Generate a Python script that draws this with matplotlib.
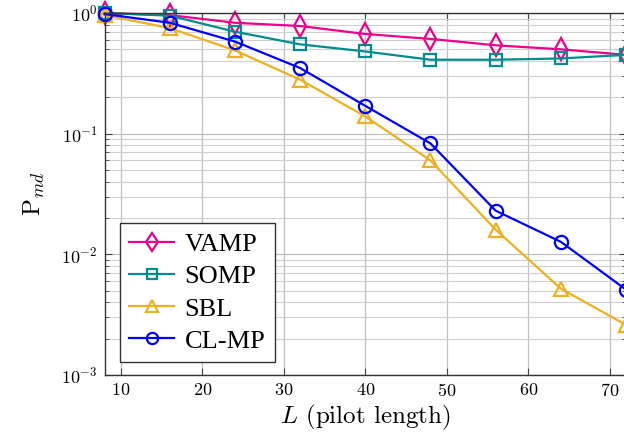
import numpy as np
import matplotlib
matplotlib.use("Agg")
import matplotlib.pyplot as plt
from matplotlib.ticker import FuncFormatter, LogLocator, NullFormatter

plt.rcParams['font.family'] = 'serif'
plt.rcParams['font.serif'] = ['cmr10', 'DejaVu Serif']
plt.rcParams['mathtext.fontset'] = 'cm'
plt.rcParams['axes.formatter.use_mathtext'] = True

# pilot length
L = [8, 16, 24, 32, 40, 48, 56, 64, 72]

# miss detection probability per method
vamp = [1.0, 0.96, 0.83, 0.78, 0.67, 0.61, 0.54, 0.50, 0.45]
somp = [1.0, 0.95, 0.70, 0.55, 0.48, 0.41, 0.41, 0.42, 0.45]
sbl = [0.96, 0.75, 0.49, 0.28, 0.139, 0.060, 0.016, 0.0052, 0.0026]
clmp = [0.98, 0.83, 0.58, 0.35, 0.17, 0.083, 0.023, 0.0127, 0.0051]

series = [
    ('VAMP', vamp, '#EC008C', 'd', 11),
    ('SOMP', somp, '#008C8C', 's', 9),
    ('SBL', sbl, '#EDB120', '^', 9.5),
    ('CL-MP', clmp, '#0000FF', 'o', 9.5),
]

fig = plt.figure(figsize=(6.24, 4.45), dpi=100)
ax = fig.add_axes([104.6 / 624, 70 / 445, (626 - 104.6) / 624, 362 / 445])

for name, vals, col, mk, ms in series:
    ax.plot(L, vals, color=col, lw=1.6, marker=mk, ms=ms, mfc='none',
            mec=col, mew=1.6, label=name, clip_on=False)

ax.set_yscale('log')
ax.set_xlim(8, 72)
ax.set_ylim(1e-3, 1)
ax.set_xticks([10, 20, 30, 40, 50, 60, 70])
ax.xaxis.set_major_formatter(FuncFormatter(lambda v, p: '$%d$' % v))
ax.yaxis.set_major_locator(LogLocator(base=10, numticks=10))
ax.yaxis.set_minor_locator(LogLocator(base=10, subs=np.arange(2, 10), numticks=10))
ax.yaxis.set_minor_formatter(NullFormatter())

ax.grid(True, which='major', color='#c0c0c0', lw=0.9)
ax.grid(True, which='minor', axis='y', color='#d0d0d0', lw=0.8)
ax.set_axisbelow(True)

ax.tick_params(which='both', direction='in', top=True, right=True,
               labelsize=13, color='#444444', pad=5)
ax.tick_params(which='major', length=5, width=0.8)
ax.tick_params(which='minor', length=3, width=0.6)
for s in ax.spines.values():
    s.set_color('#333333')
    s.set_linewidth(1.0)

ax.set_xlabel(r'$L$ (pilot length)', fontsize=18, labelpad=3)
ax.set_ylabel(r'$\mathrm{P}_{md}$', fontsize=18, labelpad=10)

leg = ax.legend(loc='lower left', bbox_to_anchor=(0.0295, 0.036),
                borderaxespad=0, fancybox=False, framealpha=1,
                edgecolor='#333333', prop={'family': 'Liberation Serif', 'size': 19},
                handlelength=1.7, handletextpad=0.4, labelspacing=0.33,
                borderpad=0.35, markerscale=0.85)
leg.get_frame().set_linewidth(1.0)

plt.savefig('out.png', dpi=100)
